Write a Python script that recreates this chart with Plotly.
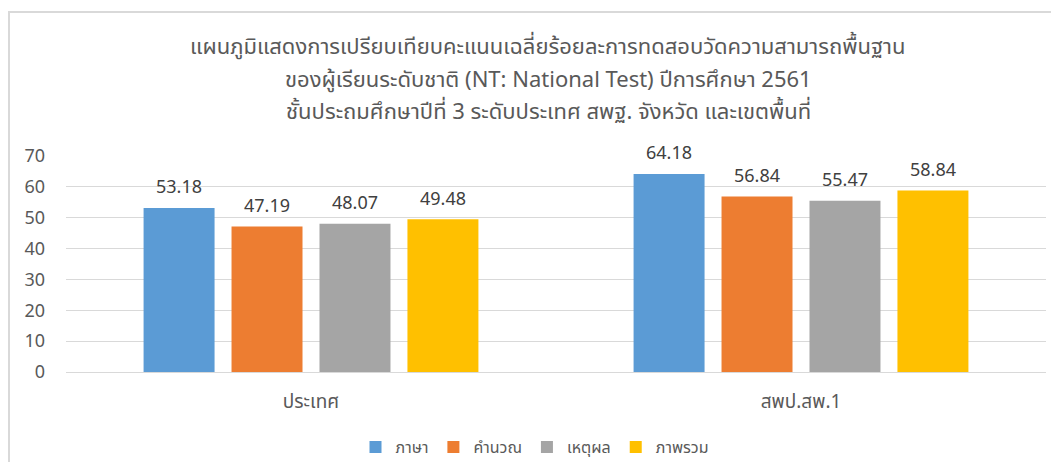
import plotly.graph_objects as go

categories = ["ประเทศ", "สพป.สพ.1"]
series_names = ["ภาษา", "คำนวณ", "เหตุผล", "ภาพรวม"]
series_colors = ["#5B9BD5", "#ED7D31", "#A5A5A5", "#FFC000"]
values = {
    "ภาษา": [53.18, 64.18],
    "คำนวณ": [47.19, 56.84],
    "เหตุผล": [48.07, 55.47],
    "ภาพรวม": [49.48, 58.84],
}
y_ticks = [0, 10, 20, 30, 40, 50, 60, 70]
title_lines = [
    "แผนภูมิแสดงการเปรียบเทียบคะแนนเฉลี่ยร้อยละการทดสอบวัดความสามารถพื้นฐาน",
    "ของผู้เรียนระดับชาติ (NT: National Test) ปีการศึกษา 2561",
    "ชั้นประถมศึกษาปีที่ 3 ระดับประเทศ สพฐ. จังหวัด และเขตพื้นที่",
]

FONT = "Tahoma, Leelawadee UI, Noto Sans Thai, Loma, Garuda, Noto Sans, sans-serif"
OFF = 8  # page body margin offset
W, H = 1059 - OFF, 462 - OFF
PL, PR, PT, PB = 66 - OFF, 1046 - OFF, 156 - OFF, 372 - OFF  # plot area in figure px
BARGAP = 0.282
n = len(series_names)
slot = (1 - BARGAP) / n


def px_x(x):  # x in screenshot pixels -> paper
    return (x - OFF - PL) / (PR - PL)


def px_y(y):  # y in screenshot pixels -> paper
    return (PB - (y - OFF)) / (PB - PT)


fig = go.Figure()
annotations = []
for j, name in enumerate(series_names):
    fig.add_trace(go.Bar(
        name=name, x=categories, y=values[name],
        marker=dict(color=series_colors[j], line=dict(width=0)),
    ))
    for i, v in enumerate(values[name]):
        annotations.append(dict(
            x=i + (j - (n - 1) / 2) * slot, y=v, xref="x", yref="y",
            text=f"{v:.2f}", showarrow=False, yanchor="middle", yshift=20,
            font=dict(family=FONT, size=18, color="#404040"),
        ))

for line, ypx in zip(title_lines, [47, 80, 113]):
    annotations.append(dict(
        x=px_x(548), y=px_y(ypx), xref="paper", yref="paper",
        text=line, showarrow=False, xanchor="center", yanchor="middle",
        font=dict(family=FONT, size=22, color="#595959"),
    ))

fig.update_layout(
    width=W, height=H,
    margin=dict(l=PL, r=W - PR, t=PT, b=H - PB, autoexpand=False),
    paper_bgcolor="white", plot_bgcolor="white",
    barmode="group", bargap=BARGAP, bargroupgap=0.193,
    showlegend=True,
    legend=dict(orientation="h", x=px_x(535), xanchor="center",
                y=px_y(447), yanchor="middle",
                font=dict(family=FONT, size=16, color="#595959"),
                itemwidth=30, traceorder="normal"),
    annotations=annotations,
    xaxis=dict(showgrid=False, showline=False, ticks="", ticklabelstandoff=16,
               tickfont=dict(family=FONT, size=19, color="#595959")),
    yaxis=dict(range=[0, 70], tickvals=y_ticks, showgrid=True, gridcolor="#D9D9D9",
               gridwidth=1, zeroline=True, zerolinecolor="#D9D9D9", zerolinewidth=1,
               showline=False, ticks="", ticklabelstandoff=20,
               tickfont=dict(family=FONT, size=18, color="#595959")),
    shapes=[dict(type="rect", xref="paper", yref="paper",
                 x0=px_x(OFF + 1), x1=1.2, y0=-1.0, y1=px_y(12),
                 line=dict(color="#D9D9D9", width=2), fillcolor="rgba(0,0,0,0)",
                 layer="below")],
)

fig.write_html("out.html")
